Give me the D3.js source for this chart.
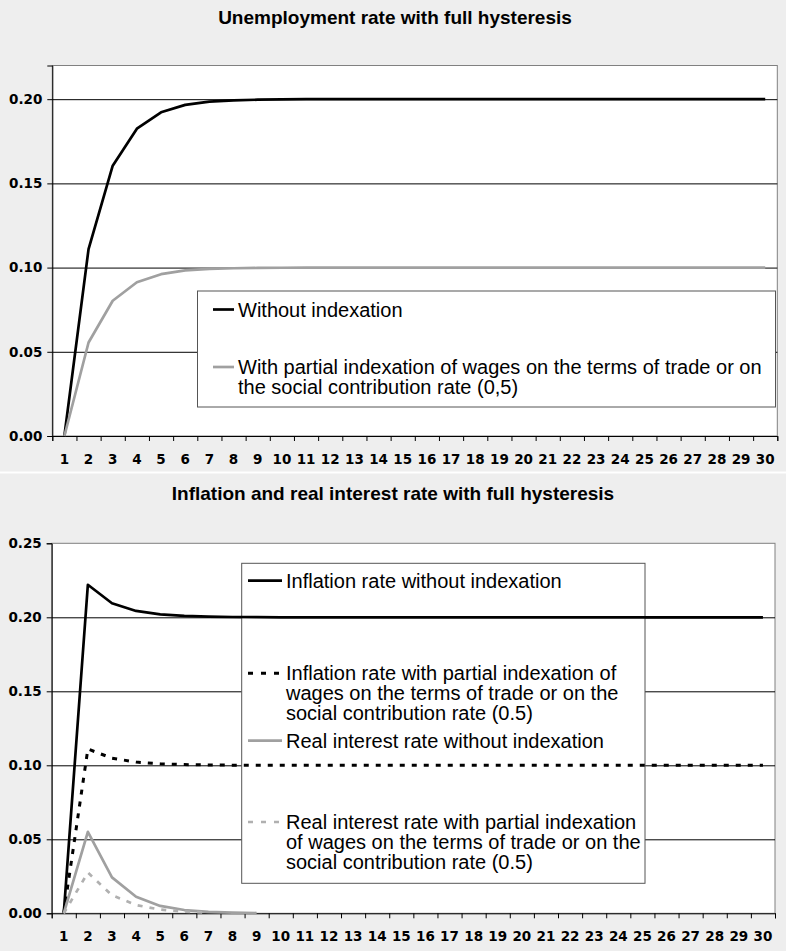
<!DOCTYPE html>
<html>
<head>
<meta charset="utf-8">
<script src="https://cdn.jsdelivr.net/npm/d3@7/dist/d3.min.js"></script>
<style>
  body { margin: 0; background: #ffffff; }
  svg { display: block; }
</style>
</head>
<body>
<svg id="chart" width="786" height="951"></svg>
<script>
// ---------- DATA ----------
const categories = [1,2,3,4,5,6,7,8,9,10,11,12,13,14,15,16,17,18,19,20,21,22,23,24,25,26,27,28,29,30];

// Chart 1: Unemployment rate with full hysteresis
const unempNoIndexation = [0, 0.111, 0.1605, 0.1825, 0.1922, 0.1966, 0.1985, 0.1993, 0.1997, 0.1999,
  0.2, 0.2, 0.2, 0.2, 0.2, 0.2, 0.2, 0.2, 0.2, 0.2, 0.2, 0.2, 0.2, 0.2, 0.2, 0.2, 0.2, 0.2, 0.2, 0.2];
const unempPartial = [0, 0.0555, 0.0803, 0.0913, 0.0961, 0.0983, 0.0992, 0.0996, 0.0998, 0.0999,
  0.1, 0.1, 0.1, 0.1, 0.1, 0.1, 0.1, 0.1, 0.1, 0.1, 0.1, 0.1, 0.1, 0.1, 0.1, 0.1, 0.1, 0.1, 0.1, 0.1];
const unempTicks = [0, 0.05, 0.10, 0.15, 0.20];
const unempTitle = "Unemployment rate with full hysteresis";
const unempLegend = [
  ["Without indexation"],
  ["With partial indexation of wages on the terms of trade or on", "the social contribution rate (0,5)"]
];

// Chart 2: Inflation and real interest rate with full hysteresis
const inflNoIndexation = [0, 0.222, 0.2095, 0.2043, 0.202, 0.201, 0.2005, 0.2002, 0.2001, 0.2,
  0.2, 0.2, 0.2, 0.2, 0.2, 0.2, 0.2, 0.2, 0.2, 0.2, 0.2, 0.2, 0.2, 0.2, 0.2, 0.2, 0.2, 0.2, 0.2, 0.2];
const inflPartial = [0, 0.111, 0.1048, 0.1022, 0.101, 0.1005, 0.1002, 0.1001, 0.1, 0.1,
  0.1, 0.1, 0.1, 0.1, 0.1, 0.1, 0.1, 0.1, 0.1, 0.1, 0.1, 0.1, 0.1, 0.1, 0.1, 0.1, 0.1, 0.1, 0.1, 0.1];
const realNoIndexation = [0, 0.055, 0.0243, 0.0112, 0.005, 0.0022, 0.001, 0.0005, 0.0002];
const realPartial = [0, 0.0275, 0.0122, 0.0056, 0.0025, 0.0011, 0.0005];
const inflTicks = [0, 0.05, 0.10, 0.15, 0.20, 0.25];
const inflTitle = "Inflation and real interest rate with full hysteresis";
const inflLegend = [
  ["Inflation rate without indexation"],
  ["Inflation rate with partial indexation of", "wages on the terms of trade or on the", "social contribution rate (0.5)"],
  ["Real interest rate without indexation"],
  ["Real interest rate with partial indexation", "of wages on the terms of trade or on the", "social contribution rate (0.5)"]
];

// ---------- DRAWING ----------
const svg = d3.select("#chart");
const BG = "#eeeeee";
const tickFont = "'DejaVu Sans', Verdana, sans-serif";
const textFont = "'Liberation Sans', Arial, sans-serif";

function drawChart(cfg) {
  const g = svg.append("g");
  g.append("rect").attr("x", 0).attr("y", cfg.bgTop).attr("width", 786)
    .attr("height", cfg.bgBottom - cfg.bgTop).attr("fill", BG);

  const x = d3.scaleBand().domain(categories).range([cfg.left, cfg.right]).paddingInner(0).paddingOuter(0);
  const xEdge = d3.scaleLinear().domain([0, categories.length]).range([cfg.left, cfg.right]);
  const y = d3.scaleLinear().domain([0, cfg.yMax]).range([cfg.bottom, cfg.top]);

  // title
  g.append("text").attr("x", cfg.titleX).attr("y", cfg.titleY)
    .attr("text-anchor", "middle").attr("dominant-baseline", "central")
    .attr("font-family", textFont).attr("font-weight", "bold").attr("font-size", 19)
    .attr("fill", "#000").text(cfg.title);

  // plot area
  g.append("rect").attr("x", cfg.left).attr("y", cfg.top)
    .attr("width", cfg.right - cfg.left).attr("height", cfg.bottom - cfg.top)
    .attr("fill", "#ffffff").attr("stroke", "#808080").attr("stroke-width", 1);

  // gridlines
  const grid = g.append("g").attr("transform", `translate(${cfg.left},0)`)
    .call(d3.axisLeft(y).tickValues(cfg.ticks.filter(t => t > 0 && t < cfg.yMax - 1e-9))
      .tickSize(-(cfg.right - cfg.left)).tickFormat(""));
  grid.select(".domain").remove();
  grid.selectAll(".tick line").attr("stroke", "#000").attr("stroke-width", 1);

  // y axis
  const ya = g.append("g").attr("transform", `translate(${cfg.left},0)`)
    .call(d3.axisLeft(y).tickValues(cfg.ticks).tickSize(5).tickPadding(5).tickFormat(d3.format(".2f")));
  ya.select(".domain").attr("stroke", "#000");
  ya.selectAll(".tick line").attr("stroke", "#000");
  ya.selectAll(".tick text").attr("font-family", tickFont).attr("font-weight", "bold")
    .attr("font-size", 13.5).attr("fill", "#000");

  // x axis: tick marks at category boundaries
  const xt = g.append("g").attr("transform", `translate(0,${cfg.bottom})`)
    .call(d3.axisBottom(xEdge).tickValues(d3.range(0, categories.length + 1)).tickSize(5).tickFormat(""));
  xt.select(".domain").attr("stroke", "#000");
  xt.selectAll(".tick line").attr("stroke", "#000");
  // x labels at category centres
  const xl = g.append("g").attr("transform", `translate(0,${cfg.bottom})`)
    .call(d3.axisBottom(x).tickSize(0).tickPadding(cfg.xPad));
  xl.select(".domain").remove();
  xl.selectAll(".tick text").attr("font-family", tickFont).attr("font-weight", "bold")
    .attr("font-size", 13.5).attr("fill", "#000");

  // legend box (drawn under the data lines, over the gridlines)
  const L = cfg.legend;
  g.append("rect").attr("x", L.x0).attr("y", L.y0).attr("width", L.x1 - L.x0).attr("height", L.y1 - L.y0)
    .attr("fill", "#ffffff").attr("stroke", "#555").attr("stroke-width", 1);
  cfg.series.forEach((s, i) => {
    const ey = L.entryY[i];
    g.append("line").attr("x1", L.sx0).attr("x2", L.sx1).attr("y1", ey).attr("y2", ey)
      .attr("stroke", s.color).attr("stroke-width", s.width)
      .attr("stroke-dasharray", s.dash ? s.legendDash : null);
    const t = g.append("text").attr("font-family", textFont).attr("font-size", 20)
      .attr("fill", "#000").attr("dominant-baseline", "central");
    s.label.forEach((ln, k) => {
      t.append("tspan").attr("x", L.tx).attr("y", ey + k * L.lineH).text(ln);
    });
  });

  // data lines
  const line = d3.line().x((d, i) => x(categories[i]) + x.bandwidth() / 2).y(d => y(d));
  cfg.series.forEach(s => {
    g.append("path").datum(s.values).attr("d", line)
      .attr("fill", "none").attr("stroke", s.color).attr("stroke-width", s.width)
      .attr("stroke-linejoin", "round")
      .attr("stroke-dasharray", s.dash || null);
  });
}

drawChart({
  bgTop: 0, bgBottom: 471.5,
  left: 52.3, right: 777.3, top: 65.5, bottom: 436, yMax: 0.22,
  ticks: unempTicks, xPad: 18.5,
  title: unempTitle, titleX: 395, titleY: 17,
  legend: { x0: 197.5, x1: 775.5, y0: 291, y1: 407, sx0: 213, sx1: 234, tx: 238, lineH: 20,
            entryY: [309.5, 367] },
  series: [
    { values: unempNoIndexation, color: "#000000", width: 2.7, label: unempLegend[0] },
    { values: unempPartial, color: "#a0a0a0", width: 2.7, label: unempLegend[1] }
  ]
});

drawChart({
  bgTop: 473.5, bgBottom: 951,
  left: 51.7, right: 775, top: 543.3, bottom: 913.3, yMax: 0.25,
  ticks: inflTicks, xPad: 18,
  title: inflTitle, titleX: 393, titleY: 493.3,
  legend: { x0: 241.7, x1: 645, y0: 563.3, y1: 883.3, sx0: 248, sx1: 282, tx: 286, lineH: 20,
            entryY: [580.7, 673.3, 740.7, 822] },
  series: [
    { values: inflNoIndexation, color: "#000000", width: 2.7, label: inflLegend[0] },
    { values: inflPartial, color: "#000000", width: 3, dash: "5,7", legendDash: "5,8", label: inflLegend[1] },
    { values: realNoIndexation, color: "#a0a0a0", width: 2.7, label: inflLegend[2] },
    { values: realPartial, color: "#b0b0b0", width: 2.7, dash: "5,7", legendDash: "5,8", label: inflLegend[3] }
  ]
});
</script>
</body>
</html>
